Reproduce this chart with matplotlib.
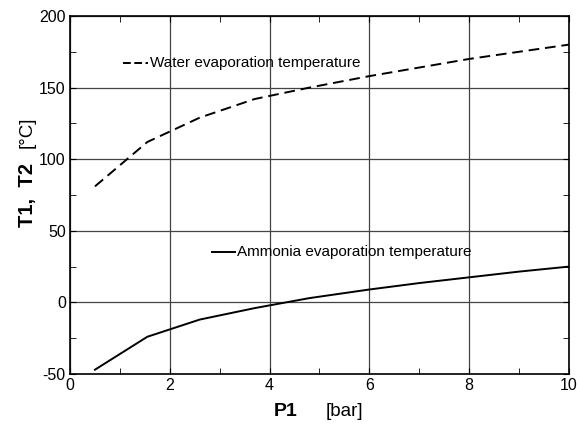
import matplotlib
matplotlib.use("Agg")
import matplotlib.pyplot as plt
from matplotlib.ticker import MultipleLocator

plt.rcParams["font.family"] = ["Liberation Sans", "DejaVu Sans"]
plt.rcParams["axes.unicode_minus"] = False

# pressure P1 [bar]
p1 = [0.5, 1.55, 2.6, 3.7, 4.8, 6.0, 7.0, 8.0, 9.0, 10.0]
# evaporation temperatures [°C]
t_water = [81, 112, 129, 142, 150, 158, 164, 170, 175, 180]
t_ammonia = [-47, -24, -12, -4, 3, 9, 13.5, 17.5, 21.5, 25]

water_label = "Water evaporation temperature"
ammonia_label = "Ammonia evaporation temperature"

fig = plt.figure(figsize=(5.77, 4.25), dpi=100)
ax = fig.add_axes([0.1213, 0.12, 0.8647, 0.8424])

ax.plot(p1, t_water, color="black", linestyle=(0, (5.5, 3)), linewidth=1.4)
ax.plot(p1, t_ammonia, color="black", linestyle="-", linewidth=1.4)

# inline legend samples
ax.plot([1.06, 1.56], [167, 167], color="black", linestyle=(0, (4, 1.8)), linewidth=1.4)
ax.text(1.6, 167, water_label, fontsize=11, va="center", ha="left")
ax.plot([2.85, 3.31], [35.5, 35.5], color="black", linestyle="-", linewidth=1.4)
ax.text(3.34, 35.5, ammonia_label, fontsize=11, va="center", ha="left")

ax.set_xlim(0, 10)
ax.set_ylim(-50, 200)
ax.xaxis.set_major_locator(MultipleLocator(2))
ax.xaxis.set_minor_locator(MultipleLocator(1))
ax.yaxis.set_major_locator(MultipleLocator(50))
ax.yaxis.set_minor_locator(MultipleLocator(25))
ax.tick_params(which="both", direction="in", top=True, right=True, labelsize=11.5, pad=3)
ax.tick_params(which="major", length=4)
ax.tick_params(which="minor", length=4)
ax.grid(True, which="major", color="#444444", linewidth=0.9)
for s in ax.spines.values():
    s.set_linewidth(1.2)

# axis titles, bold symbol + regular unit
ax.text(0.433, -0.106, "P1", transform=ax.transAxes, fontsize=14, fontweight="bold",
        ha="center", va="center")
ax.text(0.551, -0.106, "[bar]", transform=ax.transAxes, fontsize=13.5,
        ha="center", va="center")
ax.text(-0.086, 0.5, "T1,  T2", transform=ax.transAxes, fontsize=14.5, fontweight="bold",
        rotation=90, ha="center", va="center")
ax.text(-0.086, 0.675, "[°C]", transform=ax.transAxes, fontsize=13.5,
        rotation=90, ha="center", va="center")

fig.savefig("out.png", dpi=100)
